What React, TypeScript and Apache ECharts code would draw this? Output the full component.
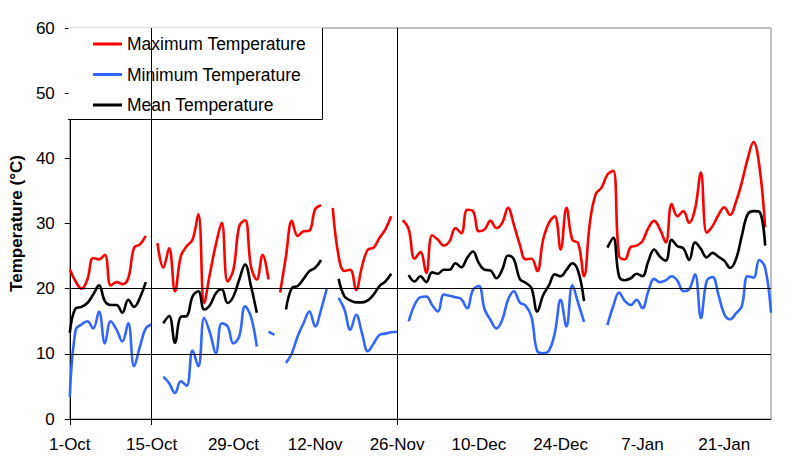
import React, { useEffect, useRef } from "react";
import * as echarts from "echarts";

const MONTHS = ["Oct", "Nov", "Dec", "Jan"];
const MONTH_DAYS = [31, 30, 31, 29];

// 1-Oct .. 29-Jan, one category per day
const categories: string[] = [];
MONTHS.forEach((m, i) => {
  for (let d = 1; d <= MONTH_DAYS[i]; d++) categories.push(`${d}-${m}`);
});

const tickLabels = ["1-Oct", "15-Oct", "29-Oct", "12-Nov", "26-Nov", "10-Dec", "24-Dec", "7-Jan", "21-Jan"];
const dividerDates = ["15-Oct", "26-Nov"];
const guideValues = [10, 20];

const maxTemp: (number | null)[] = [
  23.0, 21.1, 20.0, 21.4, 24.7, 24.5, 25.2, 20.5, 21.0, 20.7,
  21.6, 26.3, 26.8, 28.1, null, 27.0, 23.2, 26.2, 19.6, 25.0,
  26.5, 27.5, 31.4, 17.8, 22.4, 26.8, 30.1, 21.1, 22.9, 29.6,
  30.5, 23.4, 21.4, 25.2, 21.4, null, 19.4, 25.0, 30.4, 28.1,
  28.8, 28.9, 32.2, 32.8, null, 32.4, 25.0, 22.7, 22.9, 19.8,
  23.4, 26.0, 26.3, 27.8, 29.1, 31.1, null, 30.5, 29.1, 24.6,
  25.6, 22.4, 28.2, 27.5, 26.6, 27.3, 29.3, 28.5, 32.1, 31.9,
  28.8, 29.1, 30.4, 29.3, 30.1, 32.4, 29.8, 26.8, 24.5, 24.6,
  22.7, 27.5, 30.1, 31.1, 26.0, 32.4, 27.5, 27.0, 21.9, 30.1,
  34.5, 35.5, 37.5, 38.1, 25.0, 24.5, 26.4, 26.6, 27.3, 29.3,
  30.4, 29.1, 27.1, 33.0, 31.1, 31.9, 30.1, 32.2, 37.8, 28.6,
  29.6, 31.3, 32.5, 31.3, 33.3, 36.3, 39.9, 42.5, 38.9, 29.4,
  null,
];

const minTemp: (number | null)[] = [
  3.4, 13.7, 14.5, 15.0, 13.9, 16.5, 11.6, 15.0, 13.7, 11.9,
  14.7, 8.1, 11.1, 13.9, 14.5, null, 6.5, 5.5, 4.0, 5.8,
  5.1, 10.5, 8.1, 15.5, 13.2, 10.1, 14.7, 14.2, 11.6, 12.7,
  17.3, 15.7, 11.1, null, 13.4, 12.9, null, 8.6, 10.1, 12.7,
  14.7, 16.5, 14.2, 16.8, 20.1, null, 18.6, 16.8, 13.7, 16.0,
  13.2, 10.4, 11.6, 12.9, 13.1, 13.3, 13.4, null, 15.0, 17.5,
  18.7, 18.8, 17.5, 16.5, 19.1, 18.9, 18.7, 18.4, 17.0, 19.8,
  20.4, 16.8, 15.2, 13.9, 15.2, 18.3, 19.6, 17.9, 17.4, 15.7,
  10.4, 10.1, 10.5, 13.2, 18.3, 14.2, 20.5, 17.8, 14.9, null,
  null, null, 14.4, 17.3, 19.4, 18.1, 17.5, 18.3, 17.0, 19.6,
  21.5, 21.0, 21.3, 21.9, 21.2, 19.6, 19.9, 22.2, 15.5, 21.2,
  21.8, 19.1, 16.1, 15.3, 16.2, 17.3, 21.9, 21.7, 24.4, 23.2,
  16.3,
];

const meanTemp: (number | null)[] = [
  13.2, 17.0, 17.2, 17.8, 19.1, 20.5, 18.1, 17.5, 17.5, 16.3,
  18.3, 17.2, 18.6, 21.0, null, null, 14.7, 15.8, 11.7, 15.7,
  15.8, 18.8, 19.6, 16.8, 17.5, 19.3, 19.9, 17.8, 18.8, 21.4,
  23.7, 20.4, 16.3, null, null, null, null, 16.8, 20.1, 20.4,
  21.5, 22.7, 23.2, 24.4, null, null, 21.5, 18.8, 18.2, 17.9,
  17.9, 18.2, 19.1, 20.4, 21.1, 22.3, null, null, 22.1, 21.1,
  21.9, 21.0, 22.5, 22.3, 22.9, 22.9, 23.9, 23.3, 24.7, 25.7,
  23.9, 22.9, 22.8, 21.6, 22.9, 25.1, 24.5, 21.5, 20.9, 20.1,
  16.5, 19.0, 20.5, 22.2, 21.9, 22.9, 23.9, 22.7, 18.1, null,
  null, null, 26.3, 27.8, 21.9, 21.3, 21.6, 22.3, 21.9, 24.2,
  26.0, 24.9, 24.3, 27.5, 26.5, 26.2, 24.4, 27.1, 26.1, 24.8,
  25.5, 24.9, 24.3, 23.2, 24.5, 28.1, 31.4, 31.9, 31.8, 26.6,
  null,
];

const FONT = "Arial, 'Liberation Sans', sans-serif";

export default function App() {
  const ref = useRef<HTMLDivElement>(null);
  useEffect(() => {
    if (!ref.current) return;
    const chart = echarts.init(ref.current, undefined, { renderer: "svg" });
    const tickIdx = new Set([0, ...dividerDates.map((d) => categories.indexOf(d))]);
    const lineCommon = {
      type: "line" as const,
      smooth: 0.4,
      showSymbol: false,
      symbol: "none",
      connectNulls: false,
    };
    chart.setOption({
      animation: false,
      textStyle: { fontFamily: FONT },
      grid: {
        left: 68,
        top: 28,
        right: 29,
        bottom: 47,
        show: true,
        borderColor: "#808080",
        borderWidth: 1,
        backgroundColor: "transparent",
      },
      legend: {
        orient: "vertical",
        left: 93,
        top: 35,
        padding: 0,
        itemWidth: 29,
        itemHeight: 3,
        itemGap: 12.5,
        icon: "rect",
        textStyle: { fontSize: 17.5, color: "#000", fontFamily: FONT },
        data: ["Maximum Temperature", "Minimum Temperature", "Mean Temperature"],
        z: 10,
      },
      xAxis: {
        type: "category",
        data: categories,
        boundaryGap: false,
        axisLine: { lineStyle: { color: "#000", width: 1 } },
        axisTick: {
          show: true,
          length: 6,
          interval: (i: number) => tickIdx.has(i),
          lineStyle: { color: "#000" },
        },
        axisLabel: {
          interval: (i: number, v: string) => tickLabels.includes(v),
          fontSize: 17,
          color: "#000",
          margin: 17,
          fontFamily: FONT,
        },
        splitLine: { show: false },
      },
      yAxis: {
        type: "value",
        min: 0,
        max: 60,
        interval: 10,
        name: "Temperature (°C)",
        nameLocation: "middle",
        nameGap: 38,
        nameTextStyle: { fontSize: 17, fontWeight: "bold", color: "#000", fontFamily: FONT },
        axisLine: { show: true, lineStyle: { color: "#000", width: 1 } },
        axisTick: { show: true, length: 5, lineStyle: { color: "#000" } },
        axisLabel: { fontSize: 17, color: "#000", margin: 15, fontFamily: FONT },
        splitLine: { show: false },
      },
      graphic: [
        {
          type: "rect",
          z: 5,
          shape: { x: 68.5, y: 27.5, width: 254, height: 91.5 },
          style: { fill: "#fff", stroke: "none" },
        },
        {
          type: "polyline",
          z: 6,
          shape: { points: [[68, 119.5], [322.5, 119.5], [322.5, 28]] },
          style: { stroke: "#000", lineWidth: 1, fill: "none" },
        },
      ],
      series: [
        {
          ...lineCommon,
          name: "Maximum Temperature",
          data: maxTemp,
          lineStyle: { color: "#ff0000", width: 2.6 },
          itemStyle: { color: "#ff0000" },
          markLine: {
            silent: true,
            symbol: "none",
            label: { show: false },
            lineStyle: { color: "#000", width: 1, type: "solid" },
            data: [
              ...dividerDates.map((d) => ({ xAxis: d })),
              ...guideValues.map((v) => ({ yAxis: v })),
            ],
          },
        },
        {
          ...lineCommon,
          name: "Minimum Temperature",
          data: minTemp,
          lineStyle: { color: "#3366ff", width: 2.6 },
          itemStyle: { color: "#3366ff" },
        },
        {
          ...lineCommon,
          name: "Mean Temperature",
          data: meanTemp,
          lineStyle: { color: "#000000", width: 2.6 },
          itemStyle: { color: "#000000" },
        },
      ],
    });
    return () => chart.dispose();
  }, []);
  return (
    <div
      ref={ref}
      style={{ position: "fixed", left: 0, top: 0, width: 800, height: 466, background: "#fff" }}
    />
  );
}
